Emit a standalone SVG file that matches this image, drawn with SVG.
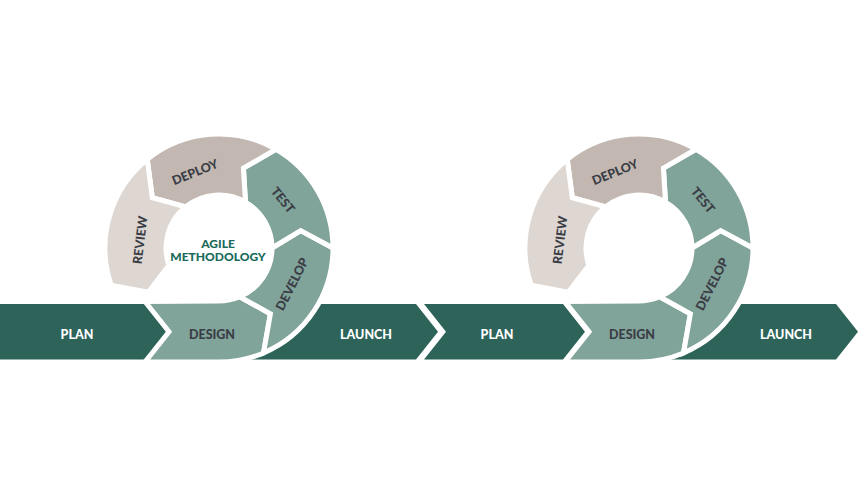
<svg xmlns="http://www.w3.org/2000/svg" width="859" height="500" viewBox="0 0 859 500">
<style>
.bar{fill:#2d6359}
.green{fill:#80a39a;stroke:#fff;stroke-width:5;stroke-linejoin:miter}
.deploy{fill:#c3b8b1;stroke:#fff;stroke-width:5;stroke-linejoin:miter}
.review{fill:#ddd6d1;stroke:#fff;stroke-width:5;stroke-linejoin:miter}
.lbl{font-family:Lato,"Liberation Sans",sans-serif;font-weight:900;font-size:12.5px;text-anchor:middle;dominant-baseline:central}
.w{fill:#ffffff}
.d{fill:#3a3d45}
.c{fill:#1b6b5b;font-size:12px}
</style>
<rect width="859" height="500" fill="#ffffff"/>
<g id="connectors"></g>

<!-- Panel 1 -->
<g id="plan-1">
<path class="bar" d="M0,304 L147,304 L169,331.75 L147,359.5 L0,359.5 Z"/>
<text class="lbl w" x="77" y="334">PLAN</text>
</g>
<g id="launch-1">
<path class="bar" d="M200,304 L416,304 L438,331.75 L416,359.5 L200,359.5 Z"/>
<text class="lbl w" x="366" y="334">LAUNCH</text>
</g>
<g id="design-1">
<path class="green" d="M145,301.5 L219,301 A53,53 0 0 0 239.71,296.79 L270.41,313.8 L263.54,352.94 A114,114 0 0 1 219,362 L145,362 L169,331.75 Z"/>
<text class="lbl d" x="212" y="334">DESIGN</text>
</g>
<g id="develop-1">
<path class="green" d="M239.71,296.79 A53,53 0 0 0 272,248 L300.67,230.64 L333,248 A114,114 0 0 1 263.54,352.94 L270.41,313.8 Z"/>
<text class="lbl d" x="292" y="284" transform="rotate(-63 292 284)">DEVELOP</text>
</g>
<g id="test-1">
<path class="green" d="M272,248 A53,53 0 0 0 245.5,202.1 L243.42,168.15 L276,149.28 A114,114 0 0 1 333,248 L300.67,230.64 Z"/>
<text class="lbl d" x="283" y="200" transform="rotate(51 283 200)">TEST</text>
</g>
<g id="deploy-1">
<path class="deploy" d="M245.5,202.1 A53,53 0 0 0 185.65,206.81 L152.32,197.75 L147.26,159.41 A114,114 0 0 1 276,149.28 L243.42,168.15 Z"/>
<text class="lbl d" x="195" y="172" transform="rotate(-22 195 172)">DEPLOY</text>
</g>
<g id="review-1">
<path class="review" d="M185.65,206.81 A53,53 0 0 0 168.89,265.26 L148.19,292.25 L111.21,285.12 A114,114 0 0 1 147.26,159.41 L152.32,197.75 Z"/>
<text class="lbl d" x="140" y="240" transform="rotate(-83 140 240)">REVIEW</text>
</g>
<g id="agile-methodology">
<text class="lbl c" x="218" y="243">AGILE</text>
<text class="lbl c" x="218" y="256.5">METHODOLOGY</text>
</g>

<!-- Panel 2 -->
<g id="plan-2">
<path class="bar" d="M424,304 L563,304 L585,331.75 L563,359.5 L424,359.5 L446,331.75 Z"/>
<text class="lbl w" x="497" y="334">PLAN</text>
</g>
<g id="launch-2" transform="translate(420,0)">
<path class="bar" d="M200,304 L416,304 L438,331.75 L416,359.5 L200,359.5 Z"/>
<text class="lbl w" x="366" y="334">LAUNCH</text>
</g>
<g id="design-2" transform="translate(420,0)">
<path class="green" d="M145,301.5 L219,301 A53,53 0 0 0 239.71,296.79 L270.41,313.8 L263.54,352.94 A114,114 0 0 1 219,362 L145,362 L169,331.75 Z"/>
<text class="lbl d" x="212" y="334">DESIGN</text>
</g>
<g id="develop-2" transform="translate(420,0)">
<path class="green" d="M239.71,296.79 A53,53 0 0 0 272,248 L300.67,230.64 L333,248 A114,114 0 0 1 263.54,352.94 L270.41,313.8 Z"/>
<text class="lbl d" x="292" y="284" transform="rotate(-63 292 284)">DEVELOP</text>
</g>
<g id="test-2" transform="translate(420,0)">
<path class="green" d="M272,248 A53,53 0 0 0 245.5,202.1 L243.42,168.15 L276,149.28 A114,114 0 0 1 333,248 L300.67,230.64 Z"/>
<text class="lbl d" x="283" y="200" transform="rotate(51 283 200)">TEST</text>
</g>
<g id="deploy-2" transform="translate(420,0)">
<path class="deploy" d="M245.5,202.1 A53,53 0 0 0 185.65,206.81 L152.32,197.75 L147.26,159.41 A114,114 0 0 1 276,149.28 L243.42,168.15 Z"/>
<text class="lbl d" x="195" y="172" transform="rotate(-22 195 172)">DEPLOY</text>
</g>
<g id="review-2" transform="translate(420,0)">
<path class="review" d="M185.65,206.81 A53,53 0 0 0 168.89,265.26 L148.19,292.25 L111.21,285.12 A114,114 0 0 1 147.26,159.41 L152.32,197.75 Z"/>
<text class="lbl d" x="140" y="240" transform="rotate(-83 140 240)">REVIEW</text>
</g>
</svg>
